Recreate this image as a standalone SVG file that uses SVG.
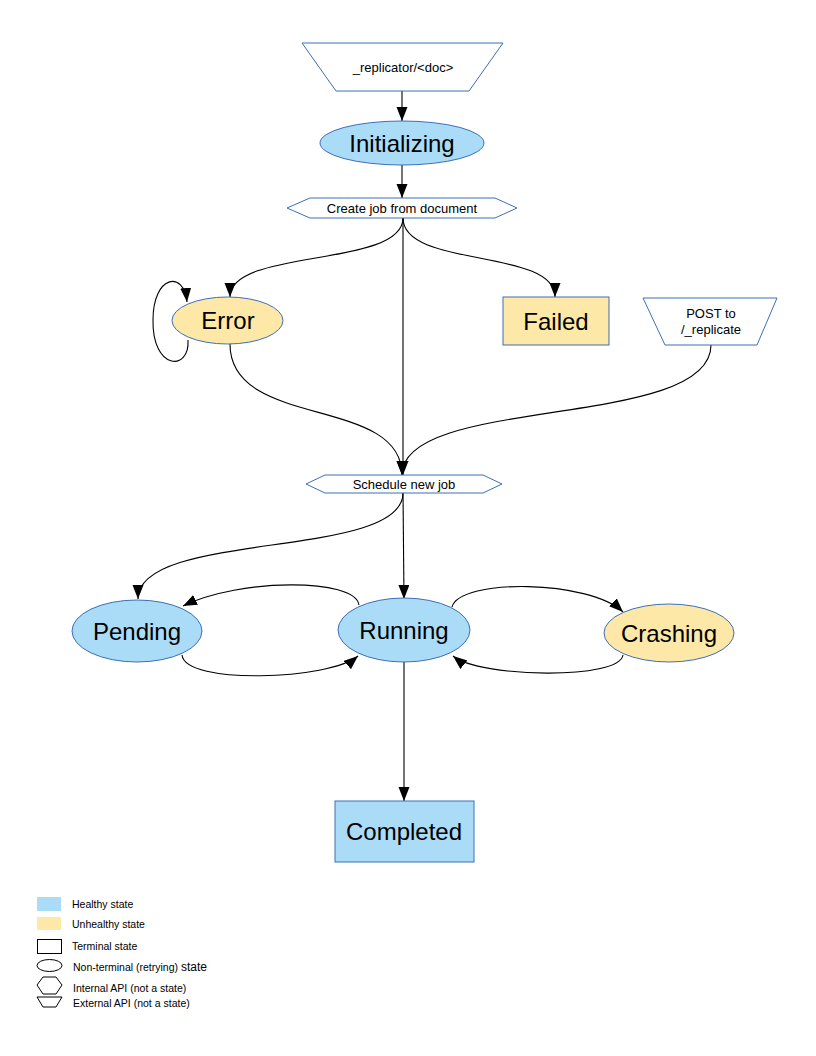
<svg xmlns="http://www.w3.org/2000/svg" width="816" height="1056" viewBox="0 0 816 1056">
<style>
text{font-family:"Liberation Sans",Arial,sans-serif;fill:#000}
.big{font-size:24px}
.mid{font-size:13px}
.leg{font-size:10.5px}
.healthy{fill:#aadcf7;stroke:#3d6fb6;stroke-width:1}
.unhealthy{fill:#fde8a7;stroke:#3d6fb6;stroke-width:1}
.api{fill:#ffffff;stroke:#3d6fb6;stroke-width:1}
.edge{fill:none;stroke:#000;stroke-width:1.1;marker-end:url(#arr)}
.lg{fill:#fff;stroke:#000;stroke-width:1}
</style>
<defs>
<marker id="arr" markerUnits="userSpaceOnUse" markerWidth="15" markerHeight="12" refX="14" refY="5.5" orient="auto">
<path d="M0,0 L14,5.5 L0,11 z" fill="#000"/>
</marker>
</defs>
<rect width="816" height="1056" fill="#fff"/>
<g id="connectors">
<path class="edge" d="M402 91 L402 121"/>
<path class="edge" d="M402 165 L402 198"/>
<path class="edge" d="M403 218 C403 268 230 248 230 297"/>
<path class="edge" d="M403 218 C403 268 555 248 555 297"/>
<path class="edge" d="M403 218 L403 475"/>
<path class="edge" d="M188 340 C190 372 152 370 153 320 C153 275 184 270 187 302"/>
<path class="edge" d="M230 344 C230 430 402 395 402 475"/>
<path class="edge" d="M711 345 C711 430 402 395 402 475"/>
<path class="edge" d="M403 493 C403 560 138 530 138 599"/>
<path class="edge" d="M403 493 L404 599"/>
<path class="edge" d="M359 605 C355 578 240 578 183 606"/>
<path class="edge" d="M182 655 C185 685 330 680 358 656"/>
<path class="edge" d="M452 607 C460 578 590 580 623 612"/>
<path class="edge" d="M623 655 C620 680 480 678 453 656"/>
<path class="edge" d="M404 662 L404 801"/>
</g>
<g id="replicator-doc">
<polygon class="api" points="302,43 503,43 469,91 336,91"/>
<text class="mid" x="403" y="72" text-anchor="middle">_replicator/&lt;doc&gt;</text>
</g>
<g id="initializing">
<ellipse class="healthy" cx="402" cy="143" rx="82" ry="22"/>
<text class="big" x="402" y="151.5" text-anchor="middle">Initializing</text>
</g>
<g id="create-job">
<polygon class="api" points="287,208 310,198 495,198 517,208 495,218 310,218"/>
<text class="mid" x="402" y="212.5" text-anchor="middle">Create job from document</text>
</g>
<g id="error">
<ellipse class="unhealthy" cx="227.5" cy="320.5" rx="55.5" ry="23.5"/>
<text class="big" x="228" y="329" text-anchor="middle">Error</text>
</g>
<g id="failed">
<rect class="unhealthy" x="503" y="297" width="106" height="48"/>
<text class="big" x="556" y="329.5" text-anchor="middle">Failed</text>
</g>
<g id="post-replicate">
<polygon class="api" points="643,298 777,298 757,345 665,345"/>
<text class="mid" x="711" y="317.5" text-anchor="middle">POST to</text>
<text class="mid" x="711" y="333.5" text-anchor="middle">/_replicate</text>
</g>
<g id="schedule-job">
<polygon class="api" points="306,484 325,475 483,475 502,484 483,493 325,493"/>
<text class="mid" x="404" y="488.5" text-anchor="middle">Schedule new job</text>
</g>
<g id="pending">
<ellipse class="healthy" cx="137" cy="631" rx="65" ry="31"/>
<text class="big" x="137" y="639.5" text-anchor="middle">Pending</text>
</g>
<g id="running">
<ellipse class="healthy" cx="404" cy="630" rx="66" ry="32"/>
<text class="big" x="404" y="638.5" text-anchor="middle">Running</text>
</g>
<g id="crashing">
<ellipse class="unhealthy" cx="669" cy="633" rx="65" ry="29"/>
<text class="big" x="669" y="641.5" text-anchor="middle">Crashing</text>
</g>
<g id="completed">
<rect class="healthy" x="335" y="801" width="139" height="61"/>
<text class="big" x="404" y="840" text-anchor="middle">Completed</text>
</g>
<g id="legend">
<rect x="37" y="897" width="24" height="14" fill="#aadcf7"/>
<text class="leg" x="72" y="907.7">Healthy state</text>
<rect x="37" y="917" width="24" height="13" fill="#fde8a7"/>
<text class="leg" x="72" y="927.7">Unhealthy state</text>
<rect class="lg" x="37.5" y="939.5" width="24" height="14"/>
<text class="leg" x="72" y="949.7">Terminal state</text>
<ellipse class="lg" cx="49.5" cy="965.5" rx="12.5" ry="6"/>
<text class="leg" x="73" y="970.7">Non-terminal (retrying) <tspan font-size="12">state</tspan></text>
<polygon class="lg" points="37,985 43,977 56,977 62,985 56,994 43,994"/>
<text class="leg" x="73" y="991.5">Internal API (not a state)</text>
<polygon class="lg" points="37,997 62,997 56,1007 43,1007"/>
<text class="leg" x="73" y="1006.5">External API (not a state)</text>
</g>
</svg>
